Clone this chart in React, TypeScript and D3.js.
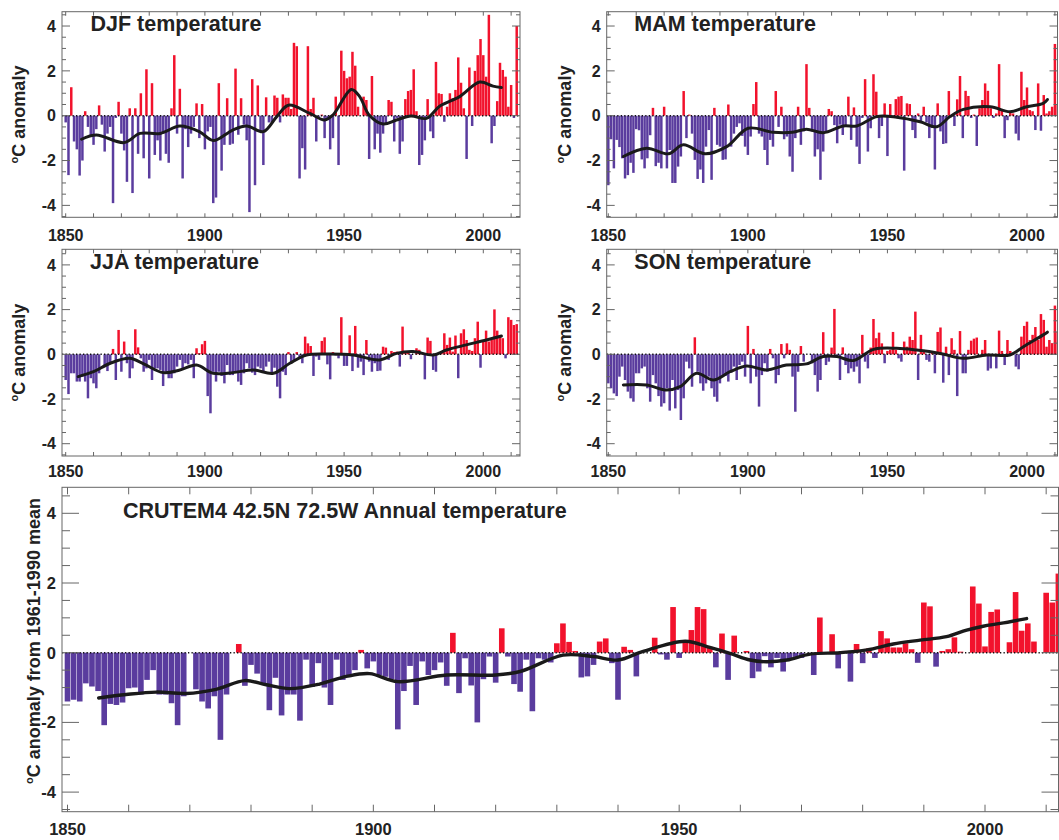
import React from "react";
import * as d3 from "d3";

const years: number[] = d3.range(1850, 2013);

const djf = [
  -0.3, -2.65, 1.27, -1.15, -1.5, -2.67, -2.0, 0.2, -0.5, -0.9,
  -1.3, -0.6, 0.46, -0.4, -1.6, -0.8, -0.5, -3.9, -0.1, 0.62,
  -0.8, -1.55, -2.95, 0.33, -3.45, 0.33, -1.7, 1.0, -1.9, 2.07,
  -2.8, 1.45, -1.75, -1.1, -2.0, -0.8, -1.7, -2.1, 0.33, 2.7,
  -0.8, 1.2, -2.8, -0.6, -1.4, -0.8, -0.5, 0.55, -1.0, 0.52,
  -1.5, -0.7, -0.5, -3.9, -3.65, 1.45, -2.45, -1.3, 0.78, -1.3,
  -1.25, 2.1, -0.85, 0.78, -0.4, -1.1, -4.3, 1.63, -3.1, 1.35,
  -0.7, -2.2, 0.82, -0.3, -0.3, 0.9, 0.8, -0.3, 0.95, 0.8,
  0.8, 0.3, 3.25, 3.1, -2.8, -1.45, -2.4, 3.1, 0.3, 0.8,
  -1.15, -0.05, 0.05, -1.0, -0.2, -1.5, -1.0, 0.85, -2.2, 2.9,
  2.0, 1.67, 1.74, 2.85, 2.23, 0.4, 0.0, 0.85, 0.7, -1.93,
  1.77, -1.5, -0.8, -1.65, -0.8, -0.4, 0.7, 0.62, -1.15, -0.1,
  -1.7, -1.15, 0.74, 1.1, 1.15, 2.07, 0.2, -2.2, -1.75, -1.1,
  0.74, -0.7, -1.0, 2.4, 1.0, 0.97, -0.27, 0.4, 1.0, 0.77,
  1.15, 2.6, 1.47, 0.33, -1.93, 2.15, -0.46, 2.0, 2.7, 3.42,
  2.7, 1.74, 4.5, -1.23, -0.46, 0.65, 2.36, 2.04, 1.74, 0.4,
  1.37, -0.1, 4.0,
];

const mam = [
  -3.1, -1.05, -2.35, -1.08, -1.4, -1.9, -2.8, -2.65, -2.1, -2.55,
  -0.6, -0.65, -1.95, -2.35, -1.9, -0.87, 0.35, -2.25, -2.1, -2.35,
  0.4, -2.35, -1.53, -3.0, -3.0, -2.27, -1.82, 1.1, -1.0, 0.05,
  -0.8, -1.97, -2.82, -2.4, -3.0, -1.38, -0.64, -2.86, 0.35, -1.3,
  -1.38, -1.97, -1.95, 0.5, -1.38, -0.8, -0.5, -0.34, -0.9, -1.38,
  -1.75, -0.93, 0.52, 1.5, -0.8, -0.93, -1.53, -2.2, -1.08, -1.38,
  1.1, -0.5, 0.4, -1.05, -0.93, -1.82, -2.5, -1.0, 0.4, -1.3,
  -0.7, 2.3, 0.35, -0.7, -1.82, -1.5, -2.86, -1.6, -0.7, 0.3,
  0.2, -0.42, -1.23, -0.4, -0.86, -0.5, 0.85, -1.08, 0.37, -1.38,
  -2.15, -0.1, 1.63, -1.6, -0.56, 1.85, 1.07, -1.0, -0.46, 0.55,
  -1.8, 0.52, -0.05, 0.74, 0.85, 0.88, -2.45, 0.55, 0.52, -0.64,
  -1.0, 0.1, -0.27, 0.4, -0.3, -1.0, -0.55, -2.4, 0.55, -0.7,
  -1.26, -1.23, 1.1, 0, -0.46, 0.73, 1.77, -1.0, 1.11, 0.88,
  -0.1, 0.05, -1.35, 0.33, 0.7, 1.44, 1.11, 0.33, -0.1, 0.1,
  2.3, 0.3, -1.0, -0.2, 0.2, 0.1, -0.8, -1.1, 1.96, 0.7,
  1.26, 0.25, 0.2, -0.64, 1.44, -0.67, 0.92, 0.1, 0.2, 0.4,
  3.2, 0.5, 1.0,
];

const jja = [
  -1.15, -1.78, -0.85, -0.85, -1.22, -1.22, -1.0, -1.22, -1.97, -1.07,
  -1.3, -1.52, -0.85, 0, -0.55, -0.75, -0.4, 0.24, -1.15, 1.09,
  -0.78, 0.57, -0.4, -1.07, -0.63, 1.12, 0.31, -0.18, -0.78, -0.63,
  -0.25, -1.15, -0.63, -0.63, -0.7, -1.42, -0.78, -1.07, -1.07, -0.85,
  -0.55, -0.25, -0.63, -0.4, -0.45, -0.25, -1.07, 0.27, 0.05, 0.45,
  0.6, -1.87, -2.64, -0.78, -1.22, -0.78, -0.97, -1.3, -0.48, -0.93,
  -0.93, -0.82, -1.22, -1.37, -0.85, -0.4, -0.63, -0.82, -0.93, -0.55,
  -0.63, -0.75, -0.55, -0.33, -0.82, -0.6, -1.45, -1.97, -0.78, -0.93,
  0.1, -0.4, -0.33, 0.1, -0.18, -0.4, 0.79, 0.49, 0.37, -0.97,
  -0.1, -0.25, 0.6, 0.76, -0.45, -1.12, 0.1, -0.05, -0.18, 1.66,
  -0.52, -0.52, 0.85, -0.75, 1.27, -0.6, -0.33, -0.93, 0.64, -0.33,
  -0.78, -0.4, -0.75, -0.73, 0.34, 0.3, -0.25, 0.15, 0.1, 0.12,
  -0.55, 1.24, 0.15, 0.1, -0.22, 0, 0.27, 0.2, 0.1, -1.12,
  0.75, 0.6, -0.7, -0.78, 0, 0.1, 0.94, 0.42, 0.75, 0.12,
  0.84, -1.07, 0.94, 1.12, 0.64, 0.2, 0.15, 0.72, 1.46, -0.6,
  0.6, 1.06, 0.57, 0.64, 2.01, 1.06, 0.84, 0.72, -0.18, 1.66,
  1.54, 1.31, 1.35,
];

const son = [
  -1.3, -1.52, -1.75, -1.87, -1.0, -0.55, -1.15, -1.67, -1.97, -2.12,
  -0.85, -0.85, -0.63, -0.55, -1.52, -2.12, -0.93, -1.3, -1.87, -2.34,
  -2.19, -1.52, -2.52, -1.15, -2.42, -1.6, -2.94, -1.97, -0.33, -0.63,
  -1.45, 0.76, -0.78, -1.3, -1.63, -1.3, -1.0, -1.52, -1.9, -2.12,
  -1.3, -1.0, -0.97, -1.22, -0.82, -0.55, -1.15, -0.48, -0.33, -1.0,
  1.27, -1.3, 0.24, -1.0, -2.34, -0.93, -0.4, -0.78, 0.24, -0.18,
  -1.3, -0.93, 0.46, -0.18, 0.49, 0.2, -1.0, -2.57, -0.78, 0.37,
  -0.33, 0, 0, -0.4, -0.93, -1.67, -1.15, 0.99, -0.48, -0.33,
  0.3, 2.03, -0.1, -1.15, 0.31, -0.48, -0.85, -0.63, -0.78, -0.55,
  -1.3, 0.87, -0.33, -0.63, 0.3, 1.58, 0.72, 0.97, 0.49, -0.4,
  0.15, 0.2, 1.0, 0.2, -0.18, -0.33, 0.57, 0.34, 0.79, 0.64,
  1.91, -1.15, 0.87, 0.2, -0.25, -0.33, 0.1, -0.85, 1.0, 1.2,
  -1.27, 0.34, -0.93, 0.72, 0.2, -1.87, 1.04, -0.85, -0.85, 0.2,
  0.61, 0.7, 0.75, 0, 0.2, 0.64, -0.73, -0.63, 0, -0.63,
  1.06, 0.15, -0.48, 0.64, 0.15, 0, -0.55, -0.67, 0.79, 1.27,
  1.46, 0.64, 0.87, 1.22, 0.64, 1.8, 1.54, 0.34, 0.64, 0.5,
  2.18, 1.0, 1.5,
];

const annual = [
  -1.4, -1.35, -1.4, -0.88, -0.97, -1.1, -2.08, -1.47, -1.5, -1.43,
  -1.02, -1.0, -1.2, -0.78, -0.5, -1.2, -1.2, -1.45, -2.08, -1.25,
  0, -1.05, -1.4, -1.6, -1.25, -2.5, -1.2, 0, 0.25, -0.95,
  -0.35, -0.6, -0.88, -1.65, -0.72, -1.8, -1.2, -1.2, -1.95, -0.2,
  -0.98, -0.3, -1.0, -1.5, -0.2, -0.78, -0.7, -0.5, 0.08, -0.45,
  -0.25, -0.64, -0.69, -0.76, -2.2, -1.1, -0.38, -1.5, -0.25, -0.64,
  -0.5, -0.28, -0.95, 0.57, -1.16, -0.16, -0.94, -2.0, -0.76, -0.11,
  -0.86, 0.7, -0.11, -0.9, -1.12, -0.2, -1.68, -0.16, -0.2, -0.28,
  0.27, 0.84, 0.31, 0.05, -0.71, -0.68, -0.35, 0.32, 0.41, -0.3,
  -1.35, 0.17, 0.08, -0.68, 0, 0, 0.43, -0.05, -0.2, 1.31,
  -0.15, 0.36, 0.65, 1.31, 1.25, 0.17, -0.42, 0.55, -0.78, 0.49,
  0, 0.05, -0.73, -0.54, -0.1, -0.42, -0.15, -0.54, -0.2, -0.12,
  -0.15, 0, -0.64, 1.01, 0, 0.53, -0.45, 0.05, -0.83, 0.25,
  -0.3, 0.12, -0.15, 0.62, 0.41, 0.15, 0.15, 0.27, 0.1, -0.29,
  1.44, 1.33, -0.4, 0.05, 0.1, 0.44, 0.03, 0, 1.9, 1.41,
  0.18, 1.17, 1.24, 0, 0.3, 1.74, 0.63, 0.84, 0.32, 0,
  1.72, 1.44, 2.27,
];

// smoothed curves: [year, value]
const djfSmooth: [number, number][] = [
  [1855.7, -1.05], [1861, -0.86], [1871, -1.2], [1876.7, -0.79], [1884, -0.79],
  [1891, -0.46], [1898, -0.71], [1903, -1.11], [1910, -0.64], [1915, -0.46],
  [1921, -0.71], [1925.8, -0.04], [1930, 0.47], [1937.7, 0.1], [1943, -0.19],
  [1946, 0.03], [1952.6, 1.17], [1955.6, 0.85], [1959, 0.03], [1964, -0.37],
  [1968.8, -0.19], [1974, -0.01], [1979.6, -0.12], [1984.4, 0.43], [1991.5, 0.85],
  [1998.7, 1.5], [2003.5, 1.32], [2006.5, 1.26],
];
const mamSmooth: [number, number][] = [
  [1855.4, -1.82], [1863.7, -1.45], [1871.5, -1.7], [1876.9, -1.3], [1884.6, -1.7],
  [1892.4, -1.38], [1900.1, -0.56], [1909, -0.74], [1916, -0.74], [1921, -0.6],
  [1927, -0.76], [1934.2, -0.46], [1939, -0.46], [1946.2, -0.04], [1953.3, -0.07],
  [1961.7, -0.27], [1967.7, -0.49], [1972.4, -0.04], [1977.2, 0.28], [1986.8, 0.4],
  [1993.9, 0.18], [1999.9, 0.4], [2005.8, 0.55], [2007.3, 0.72],
];
const jjaSmooth: [number, number][] = [
  [1854.5, -1.0], [1860, -0.78], [1866, -0.4], [1873, -0.18], [1878, -0.43],
  [1885, -0.82], [1891, -0.7], [1897, -0.48], [1903, -0.85], [1910, -0.82],
  [1917.4, -0.7], [1924.6, -0.85], [1930.5, -0.4], [1936.5, -0.03], [1944.9, 0.01],
  [1953.2, -0.03], [1962.8, -0.25], [1968.8, 0.04], [1974.8, 0.12], [1982, -0.03],
  [1986.7, 0.19], [1993.9, 0.42], [2001.1, 0.64], [2006.5, 0.82],
];
const sonSmooth: [number, number][] = [
  [1855.4, -1.37], [1863.7, -1.37], [1870.9, -1.6], [1875.7, -1.45], [1881.6, -0.85],
  [1887.6, -1.15], [1893.6, -0.78], [1899.5, -0.52], [1906.7, -0.7], [1913.8, -0.48],
  [1921, -0.43], [1927, -0.1], [1931.9, -0.1], [1937.8, -0.28], [1945, 0.22],
  [1953.3, 0.27], [1960.5, 0.19], [1968.9, 0.04], [1977.2, -0.18], [1985.6, -0.03],
  [1993.9, -0.03], [1998.7, 0.34], [2005.8, 0.87], [2007.3, 0.99],
];
const annualSmooth: [number, number][] = [
  [1855.1, -1.3], [1859.6, -1.2], [1864.5, -1.13], [1869.4, -1.17], [1874.3, -1.05],
  [1879, -0.8], [1882.5, -0.92], [1886.3, -1.03], [1891.2, -0.9], [1895.6, -0.68],
  [1899.4, -0.6], [1904, -0.83], [1912, -0.64], [1920, -0.64], [1924, -0.54],
  [1931, -0.07], [1936, -0.11], [1940, -0.21], [1944, 0.03], [1951, 0.33],
  [1955, 0.15], [1958.3, -0.02], [1961.6, -0.21], [1964.3, -0.26], [1967.6, -0.21],
  [1971.4, -0.04], [1976.3, 0], [1980.7, 0.08], [1985, 0.25], [1989.4, 0.36],
  [1993.7, 0.46], [1997, 0.65], [1999.7, 0.76], [2002.5, 0.84], [2006.8, 0.98],
];

const xLabelYears = [1850, 1900, 1950, 2000];
const yLabelValues = [4, 2, 0, -2, -4];

const RED = "#f2122c";
const PURPLE = "#5a3c9e";
const FONT = "'Liberation Sans', Arial, Helvetica, sans-serif";

type PanelSpec = {
  id: string;
  title: string;
  data: number[];
  smooth: [number, number][];
  frame: { x0: number; x1: number; y0: number; y1: number };
  xr: [number, number];
  yZero: number;
  yPer: number;
  titleX: number;
  titleY: number;
  yLabel: string;
  yLabelX: number;
  yLabelY: number;
  xLabelBase: number;
  big: boolean;
};

const panels: PanelSpec[] = [
  {
    id: "djf", title: "DJF temperature", data: djf, smooth: djfSmooth,
    frame: { x0: 62, x1: 520, y0: 11.7, y1: 217.3 }, xr: [65.7, 483.3],
    yZero: 115.7, yPer: 22.42, titleX: 90.5, titleY: 30.5,
    yLabel: "C anomaly", yLabelX: 25, yLabelY: 114.5, xLabelBase: 240.5, big: false,
  },
  {
    id: "mam", title: "MAM temperature", data: mam, smooth: mamSmooth,
    frame: { x0: 606.7, x1: 1057.5, y0: 11.7, y1: 217.3 }, xr: [608.3, 1027],
    yZero: 115.7, yPer: 22.42, titleX: 634.3, titleY: 30.5,
    yLabel: "C anomaly", yLabelX: 571, yLabelY: 114.5, xLabelBase: 240.5, big: false,
  },
  {
    id: "jja", title: "JJA temperature", data: jja, smooth: jjaSmooth,
    frame: { x0: 62, x1: 520, y0: 249.3, y1: 456 }, xr: [65.7, 483.3],
    yZero: 354.3, yPer: 22.35, titleX: 90, titleY: 269.3,
    yLabel: "C anomaly", yLabelX: 25, yLabelY: 352.6, xLabelBase: 477, big: false,
  },
  {
    id: "son", title: "SON temperature", data: son, smooth: sonSmooth,
    frame: { x0: 606.7, x1: 1057.5, y0: 249.3, y1: 456 }, xr: [608.3, 1027],
    yZero: 354.3, yPer: 22.35, titleX: 634.3, titleY: 269.3,
    yLabel: "C anomaly", yLabelX: 571, yLabelY: 352.6, xLabelBase: 477, big: false,
  },
  {
    id: "ann", title: "CRUTEM4 42.5N 72.5W Annual temperature", data: annual, smooth: annualSmooth,
    frame: { x0: 62, x1: 1058.5, y0: 487.3, y1: 811.7 }, xr: [67.5, 985],
    yZero: 652.7, yPer: 34.85, titleX: 123, titleY: 518.3,
    yLabel: "C anomaly from 1961-1990 mean", yLabelX: 40, yLabelY: 641, xLabelBase: 835, big: true,
  },
];

function Panel({ p }: { p: PanelSpec }) {
  const { x0, x1, y0, y1 } = p.frame;
  const x = d3.scaleLinear().domain([1850, 2000]).range(p.xr);
  const y = d3.scaleLinear().domain([-4, 4]).range([p.yZero + 4 * p.yPer, p.yZero - 4 * p.yPer]);
  const bw = x(1851) - x(1850);
  const line = d3
    .line<[number, number]>()
    .x((d) => x(d[0]))
    .y((d) => y(d[1]))
    .curve(d3.curveCatmullRom.alpha(0.5));
  const clipId = `clip-${p.id}`;

  const xTicks = d3.range(1850, 2020, 10).filter((t) => x(t) >= x0 - 0.5 && x(t) <= x1 + 0.5);
  const yTicks = d3.range(-9, 10).map((k) => k * 0.5).filter((v) => y(v) >= y0 && y(v) <= y1);
  const majLen = p.big ? 17 : 8;
  const minLen = p.big ? 8 : 4;
  const xtLen = p.big ? 7 : 4;
  const tickFs = p.big ? 16.5 : 16;
  const gap = p.big ? 0.5 : 0.3;

  return (
    <g>
      <defs>
        <clipPath id={clipId}>
          <rect x={x0} y={y0} width={x1 - x0} height={y1 - y0} />
        </clipPath>
      </defs>
      <g clipPath={`url(#${clipId})`}>
        {years.map((yr, i) => {
          const v = p.data[i];
          if (v === undefined || v === null) return null;
          const top = Math.min(y(v), y(0));
          const h = Math.abs(y(v) - y(0));
          return (
            <rect
              key={yr}
              x={x(yr) - bw / 2 + gap / 2}
              width={bw - gap}
              y={top}
              height={h}
              fill={v >= 0 ? RED : PURPLE}
            />
          );
        })}
        <line
          x1={x0}
          x2={x1}
          y1={y(0)}
          y2={y(0)}
          stroke="#111"
          strokeWidth={1.4}
          strokeDasharray="1.3 2.2"
        />
        <path
          d={line(p.smooth) || ""}
          fill="none"
          stroke="#1a1a1a"
          strokeWidth={p.big ? 3.4 : 3}
          strokeLinecap="round"
          strokeLinejoin="round"
        />
      </g>
      <rect x={x0} y={y0} width={x1 - x0} height={y1 - y0} fill="none" stroke="#666" strokeWidth={1} />
      {xTicks.map((t) => (
        <g key={`xt${t}`} stroke="#666" strokeWidth={1}>
          <line x1={x(t)} x2={x(t)} y1={y1} y2={y1 - xtLen} />
          <line x1={x(t)} x2={x(t)} y1={y0} y2={y0 + xtLen} />
        </g>
      ))}
      {yTicks.map((v) => {
        const major = Math.abs(v % 2) < 1e-9;
        const len = major ? majLen : minLen;
        return (
          <g key={`yt${v}`} stroke="#666" strokeWidth={1}>
            <line x1={x0} x2={x0 + len} y1={y(v)} y2={y(v)} />
            <line x1={x1} x2={x1 - len} y1={y(v)} y2={y(v)} />
          </g>
        );
      })}
      {yLabelValues.map((v) => (
        <text
          key={`yl${v}`}
          x={x0 - 6}
          y={y(v)}
          dy="0.36em"
          textAnchor="end"
          fontFamily={FONT}
          fontWeight="bold"
          fontSize={tickFs}
          fill="#222"
        >
          {v}
        </text>
      ))}
      {xLabelYears.map((t) => (
        <text
          key={`xl${t}`}
          x={x(t)}
          y={p.xLabelBase}
          textAnchor="middle"
          fontFamily={FONT}
          fontWeight="bold"
          fontSize={p.big ? 16.5 : 16}
          fill="#222"
        >
          {t}
        </text>
      ))}
      <text x={p.titleX} y={p.titleY} fontFamily={FONT} fontWeight="bold" fontSize={21.5} fill="#222">
        {p.title}
      </text>
      <text
        transform={`translate(${p.yLabelX},${p.yLabelY}) rotate(-90)`}
        textAnchor="middle"
        fontFamily={FONT}
        fontWeight="bold"
        fontSize={18}
        fill="#222"
      >
        <tspan fontSize={11} dy="-0.65em">o</tspan>
        <tspan dy="0.4em">{p.yLabel}</tspan>
      </text>
    </g>
  );
}

export default function App() {
  return (
    <svg
      width={1059}
      height={840}
      viewBox="0 0 1059 840"
      style={{ position: "absolute", left: 0, top: 0, background: "#fff" }}
    >
      <rect x={0} y={0} width={1059} height={840} fill="#fff" />
      {panels.map((p) => (
        <Panel key={p.id} p={p} />
      ))}
    </svg>
  );
}
